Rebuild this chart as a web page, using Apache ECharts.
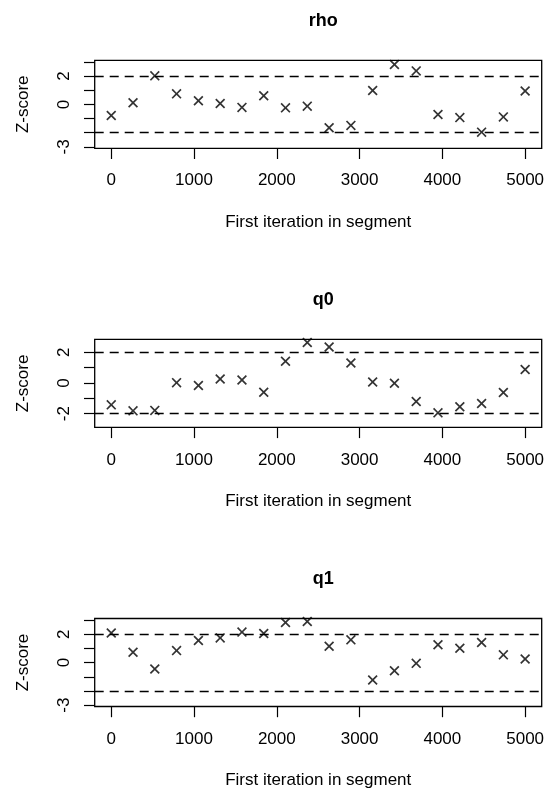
<!DOCTYPE html>
<html>
<head>
<meta charset="utf-8">
<script src="https://cdn.jsdelivr.net/npm/echarts@6/dist/echarts.min.js"></script>
<style>
  html, body { margin: 0; padding: 0; background: #fff; }
  #chart { width: 548px; height: 795px; }
</style>
</head>
<body>
<div id="chart"></div>
<script>
// first iteration of each segment
const iterations = [0, 263, 526, 789, 1053, 1316, 1579, 1842, 2105, 2368,
                    2632, 2895, 3158, 3421, 3684, 3947, 4211, 4474, 4737, 5000];

// Z-scores per parameter
const rhoZ = [-0.78, 0.12, 2.02, 0.75, 0.26, 0.07, -0.21, 0.61, -0.24, -0.12,
              -1.65, -1.48, 0.99, 2.82, 2.37, -0.71, -0.93, -1.96, -0.88, 0.95];
const q0Z = [-1.43, -1.82, -1.79, 0.02, -0.17, 0.26, 0.19, -0.61, 1.41, 2.64,
             2.34, 1.30, 0.06, -0.02, -1.21, -1.95, -1.55, -1.34, -0.62, 0.88];
const q1Z = [2.09, 0.73, -0.45, 0.85, 1.56, 1.75, 2.16, 2.06, 2.84, 2.91,
             1.16, 1.61, -1.23, -0.57, -0.05, 1.26, 1.02, 1.42, 0.55, 0.26];

const panelNames = ['rho', 'q0', 'q1'];
const panelData = [rhoZ, q0Z, q1Z];
const yLimits = [[-3.1, 3.12], [-2.9, 2.84], [-3.1, 3.12]];
const yTickValues = [[-3, -2, -1, 0, 1, 2, 3], [-2, -1, 0, 1, 2], [-3, -2, -1, 0, 1, 2, 3]];
const yLabelValues = [[-3, 0, 2], [-2, 0, 2], [-3, 0, 2]];
const xTickValues = [0, 1000, 2000, 3000, 4000, 5000];
const cutoffs = [2, -2];

const font = '"Liberation Sans", Arial, Helvetica, sans-serif';
const crossPath = 'path://M1.2,0 L5,3.8 L8.8,0 L10,1.2 L6.2,5 L10,8.8 L8.8,10 L5,6.2 L1.2,10 L0,8.8 L3.8,5 L0,1.2 Z';
const plain = function (v) { return String(v); };

const chart = echarts.init(document.getElementById('chart'), null, { renderer: 'canvas' });

const gridLeft = 94.7, gridRight = 6.3, gridH = 88, step = 279.1;
const title = [], grid = [], xAxis = [], yAxis = [], series = [];

panelNames.forEach(function (name, i) {
  const top = 60.3 + i * step;
  title.push({
    text: name,
    left: gridLeft + (548 - gridLeft - gridRight) / 2,
    top: 7 + i * step,
    textAlign: 'center',
    textStyle: { fontFamily: font, fontSize: 18, fontWeight: 'bold', color: '#000' }
  });
  grid.push({
    left: gridLeft, right: gridRight, top: top, height: gridH,
    show: true, borderColor: '#000', borderWidth: 1.3, backgroundColor: 'transparent'
  });
  xAxis.push({
    type: 'value', gridIndex: i, min: -200, max: 5200,
    name: 'First iteration in segment', nameLocation: 'middle', nameGap: 65.5,
    nameTextStyle: { fontFamily: font, fontSize: 17, color: '#000' },
    axisLine: { show: false, onZero: false },
    axisTick: { show: true, inside: false, length: 10.7, customValues: xTickValues,
                lineStyle: { color: '#000', width: 1.2 } },
    axisLabel: { customValues: xTickValues, margin: 24, formatter: plain,
                 fontFamily: font, fontSize: 17, color: '#000' },
    splitLine: { show: false }
  });
  yAxis.push({
    type: 'value', gridIndex: i, min: yLimits[i][0], max: yLimits[i][1],
    name: 'Z-score', nameLocation: 'middle', nameGap: 62.8,
    nameTextStyle: { fontFamily: font, fontSize: 17, color: '#000' },
    axisLine: { show: false, onZero: false },
    axisTick: { show: true, inside: false, length: 10.7, customValues: yTickValues[i],
                lineStyle: { color: '#000', width: 1.2 } },
    axisLabel: { customValues: yLabelValues[i], rotate: 90, margin: 22, formatter: plain,
                 fontFamily: font, fontSize: 17, color: '#000' },
    splitLine: { show: false }
  });
  series.push({
    type: 'scatter', xAxisIndex: i, yAxisIndex: i,
    data: iterations.map(function (x, k) { return [x, panelData[i][k]]; }),
    symbol: crossPath, symbolSize: 10,
    itemStyle: { color: '#000' },
    silent: true,
    markLine: {
      silent: true, symbol: ['none', 'none'], label: { show: false },
      lineStyle: { type: [9, 6], color: '#000', width: 1.3 },
      data: cutoffs.map(function (c) { return { yAxis: c }; })
    }
  });
});

chart.setOption({
  animation: false,
  backgroundColor: '#fff',
  title: title,
  grid: grid,
  xAxis: xAxis,
  yAxis: yAxis,
  series: series
});
</script>
</body>
</html>
